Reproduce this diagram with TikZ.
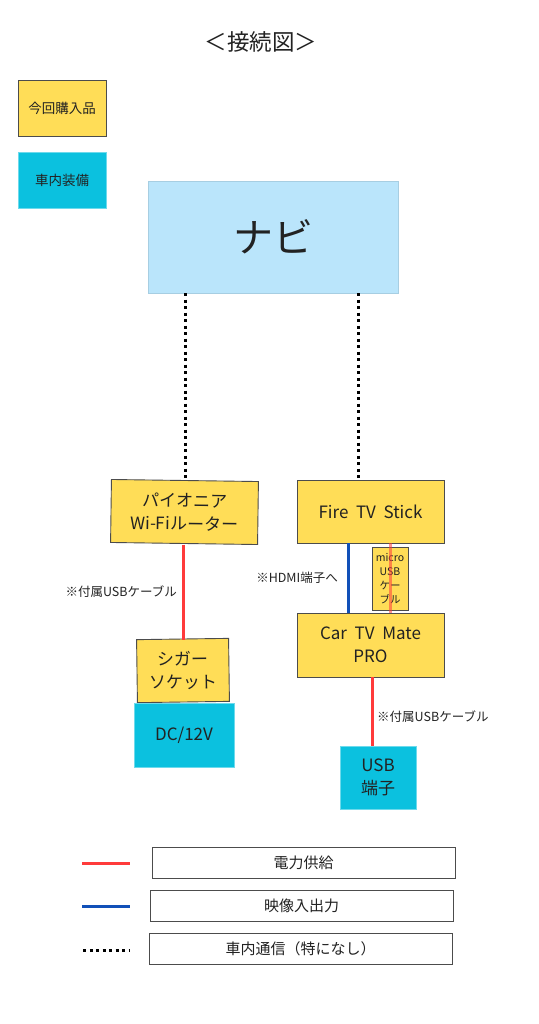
\documentclass[tikz,border=0pt]{standalone}
\usepackage{fontspec}
\setmainfont{Noto Sans CJK JP}
\definecolor{ylw}{HTML}{FFDD57}
\definecolor{cyn}{HTML}{0BC1DF}
\definecolor{lblue}{HTML}{BAE5FB}
\definecolor{pred}{HTML}{FF3B3B}
\definecolor{pblue}{HTML}{1150B8}
\definecolor{txt}{HTML}{222222}
\tikzset{
  ybox/.style={draw=black!70, line width=0.9pt, fill=ylw, align=center, text=txt, inner sep=0pt},
  cbox/.style={draw=cyn!60, line width=0.5pt, fill=cyn, align=center, text=txt, inner sep=0pt},
  lgbox/.style={draw=black!70, line width=0.8pt, fill=white, align=center, text=txt, inner sep=0pt, minimum height=31pt},
  pwr/.style={draw=pred, line width=3pt},
  vid/.style={draw=pblue, line width=3pt},
  comm/.style={draw=black, line width=3pt, dash pattern=on 3pt off 3.5pt},
  lbl/.style={text=txt, font=\fontsize{12.5}{14}\selectfont, inner sep=0pt},
  big/.style={font=\fontsize{17}{23}\selectfont}
}
\begin{document}
\begin{tikzpicture}[x=1pt,y=-1pt]
\useasboundingbox[fill=white] (0,0) rectangle (538,1024);
\node[text=txt, font=\fontsize{22.5}{26}\selectfont] (title) at (261,42) {＜接続図＞};
% legend boxes
\node[ybox, minimum width=88pt, minimum height=56pt, font=\fontsize{13.5}{15}\selectfont] (buy) at (62,108) {今回購入品};
\node[cbox, minimum width=88pt, minimum height=56pt, font=\fontsize{13.5}{15}\selectfont] (car) at (62,180) {車内装備};
% navi
\node[fill=lblue, draw=lblue!90!black, line width=0.4pt, minimum width=250pt, minimum height=112pt, font=\fontsize{40}{44}\selectfont, text=txt, inner sep=0pt] (navi) at (273,237) {ナビ};
% devices
\node[ybox, big, minimum width=147pt, minimum height=63pt, rotate=-0.8] (router) at (184.5,512) {パイオニア\\Wi-Fiルーター};
\node[ybox, big, minimum width=147pt, minimum height=63pt] (fire) at (370.5,511.5) {Fire\ \ TV\ \ Stick};
\node[ybox, big, minimum width=92pt, minimum height=63pt, rotate=0.8] (cigar) at (183,670.5) {シガー\\ソケット};
\node[cbox, big, minimum width=100pt, minimum height=64pt] (dc) at (184,735) {DC/12V};
\node[ybox, big, minimum width=147pt, minimum height=64pt] (mate) at (370.5,645) {Car\ \ TV\ \ Mate\\PRO};
\node[cbox, big, minimum width=76pt, minimum height=63pt] (usb) at (378,777.5) {USB\\端子};
\node[ybox, line width=0.6pt, minimum width=36pt, minimum height=63pt, font=\fontsize{10.5}{14}\selectfont] (micro) at (390,578.5) {micro\\USB\\ケー\\ブル};
% connectors
\coordinate (n1) at (185,293);
\coordinate (n2) at (358,293);
\draw[comm] (n1) -- (185,480);
\draw[comm] (n2) -- (358,478);
\draw[pwr] (183,544.5) -- (183,639.5);
\draw[vid] (348,543) -- (348,613);
\draw[pred, line width=3pt, opacity=0.55] (390,543) -- (390,613);
\draw[pwr] (372,677) -- (372,746);
% labels
\node[lbl, anchor=east] (l1) at (177,592) {※付属USBケーブル};
\node[lbl, anchor=east] (l2) at (338,578) {※HDMI端子へ};
\node[lbl, anchor=west] (l3) at (377,717) {※付属USBケーブル};
% legend
\coordinate (a1) at (82,863); \coordinate (a2) at (130,863);
\coordinate (b1) at (82,906); \coordinate (b2) at (130,906);
\coordinate (c1) at (83,950); \coordinate (c2) at (130,950);
\draw[pwr] (a1) -- (a2);
\draw[vid] (b1) -- (b2);
\draw[comm] (c1) -- (c2);
\node[lgbox, minimum width=303pt, font=\fontsize{15}{17}\selectfont] (lg1) at (303.5,862.5) {電力供給};
\node[lgbox, minimum width=303pt, font=\fontsize{15}{17}\selectfont] (lg2) at (301.5,905.5) {映像入出力};
\node[lgbox, minimum width=303pt, font=\fontsize{15}{17}\selectfont] (lg3) at (300.5,948.5) {車内通信（特になし）};
\end{tikzpicture}
\end{document}
